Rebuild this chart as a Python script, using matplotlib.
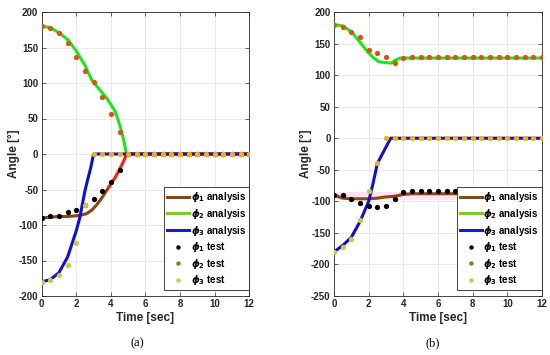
import matplotlib
matplotlib.use('Agg')
import matplotlib.pyplot as plt
from matplotlib.lines import Line2D
import numpy as np

plt.rcParams['font.family'] = ['Liberation Sans', 'DejaVu Sans']
plt.rcParams['font.weight'] = 'bold'
plt.rcParams['mathtext.fontset'] = 'dejavusans'
plt.rcParams['axes.unicode_minus'] = False

# test samples every 0.5 s
t_test = np.arange(0, 12.01, 0.5)

# ---- (a) ----
phi1_test_a = [-90, -88, -87, -82, -79, -72, -64, -52, -40, -22,
               0, 0, 0, 0, 0, 0, 0, 0, 0, 0, 0, 0, 0, 0, 0]
phi2_test_a = [180, 178, 170, 156, 136, 117, 102, 80, 57, 31,
               0, 0, 0, 0, 0, 0, 0, 0, 0, 0, 0, 0, 0, 0, 0]
phi3_test_a = [-180, -178, -170, -157, -125, -72,
               0, 0, 0, 0, 0, 0, 0, 0, 0, 0, 0, 0, 0, 0, 0, 0, 0, 0, 0]

t_phi1_a = [0, 0.5, 1, 1.5, 2, 2.3, 2.6, 2.9, 3.2, 3.5, 3.9]
phi1_a = [-90, -89, -88, -88, -87, -86, -84, -79, -71, -61, -46]
t_phi1r_a = [3.9, 4.2, 4.5, 4.7, 4.92, 12]
phi1r_a = [-46, -35, -22, -12, 0, 0]
t_phi2_a = [0, 0.5, 1.05, 1.55, 2.0, 2.5, 2.9, 3.2, 3.75, 4.25, 4.55, 4.75, 4.9, 12]
phi2_a = [180, 178, 170, 160, 145, 125, 104, 95, 79, 60, 38, 19, 0, 0]
t_phi3_a = [0, 0.5, 1, 1.5, 2, 2.2, 2.5, 2.65, 2.83, 3.0, 12]
phi3_a = [-180, -177, -167, -145, -108, -90, -52, -37, -20, 0, 0]

# ---- (b) ----
phi1_test_b = [-90, -90, -97, -102, -108, -109, -107, -96, -85,
               -83, -83, -83, -83, -83, -83, -83, -83, -83, -83, -83, -83, -83, -83, -83, -83]
phi2_test_b = [180, 176, 169, 160, 140, 135, 128, 119, 127,
               128, 128, 128, 128, 128, 128, 128, 128, 128, 128, 128, 128, 128, 128, 128, 128]
phi3_test_b = [-180, -172, -160, -130, -83, -40,
               0, 0, 0, 0, 0, 0, 0, 0, 0, 0, 0, 0, 0, 0, 0, 0, 0, 0, 0]

t_phi1_b = [0, 0.5, 1, 1.5, 2, 2.5, 3, 3.5, 4, 4.5, 12]
phi1_b = [-90, -95, -96, -96, -96, -95, -93, -92, -89, -88, -88]
t_phi2_b = [0, 0.5, 1, 1.5, 2, 2.3, 2.6, 3.3, 3.5, 3.8, 12]
phi2_b = [180, 178, 169, 152, 135, 127, 121, 119, 123, 127, 127]
t_phi3_b = [0, 0.5, 1, 1.5, 2, 2.25, 2.5, 3.27, 12]
phi3_b = [-180, -170, -157, -132, -100, -72, -40, 0, 0]

green = '#1fe31f'
blue = '#1010d0'
brown = '#8a4518'
red = '#ff1a1a'
orange_red = '#d95319'
orange = '#edb120'
ygreen = '#c4cf3c'
grid_c = '#e6e6e6'
ink = '#262626'

fig = plt.figure(figsize=(5.5, 3.55), dpi=100)
ax_a = fig.add_axes([41.7 / 550, 59 / 355, 207.5 / 550, 284 / 355])
ax_b = fig.add_axes([334 / 550, 59 / 355, 208 / 550, 284 / 355])


def style(ax, ylim, yticks):
    ax.set_xlim(0, 12)
    ax.set_ylim(*ylim)
    ax.set_xticks(range(0, 13, 2))
    ax.set_yticks(yticks)
    ax.grid(True, color=grid_c, lw=0.6)
    ax.set_axisbelow(True)
    ax.tick_params(direction='in', length=3, width=0.5, labelsize=7,
                   top=True, right=True, colors=ink, pad=2.5)
    for s in ax.spines.values():
        s.set_color(ink)
        s.set_linewidth(0.6)
    ax.set_xlabel('Time [sec]', fontsize=8.5, fontweight='bold', labelpad=2, color=ink)
    ax.set_ylabel('Angle [°]', fontsize=8.5, fontweight='bold', labelpad=-1, color=ink)


def dots(ax, p1, p2, p3):
    ms = 3.8
    ax.plot(t_test, p1, 'o', color='black', ms=ms, mec='none', zorder=4)
    ax.plot(t_test, p2, 'o', color=orange_red, ms=ms, mec='none', zorder=4)
    p3 = np.array(p3)
    low = p3 < -50
    ax.plot(t_test[low], p3[low], 'o', color=ygreen, ms=ms, mec='none', zorder=4)
    ax.plot(t_test[~low], p3[~low], 'o', color=orange, ms=ms, mec='none', zorder=5)


lw = 2.2
# (a)
style(ax_a, (-200, 200), range(-200, 201, 50))
ax_a.plot(t_phi2_a, phi2_a, color=green, lw=lw, zorder=2)
ax_a.plot(t_phi1_a, phi1_a, color=brown, lw=lw, zorder=2)
ax_a.plot(t_phi1r_a, phi1r_a, color=red, lw=lw, zorder=2)
ax_a.plot(t_phi3_a, phi3_a, color=blue, lw=lw, zorder=3)
dots(ax_a, phi1_test_a, phi2_test_a, phi3_test_a)

# (b)
style(ax_b, (-250, 200), range(-250, 201, 50))
ax_b.axhspan(-98, -86, color='#fde3f1', zorder=1, lw=0)
ax_b.plot(t_phi2_b, phi2_b, color=green, lw=lw, zorder=2)
ax_b.plot(t_phi1_b, phi1_b, color=brown, lw=lw, zorder=2)
ax_b.plot(t_phi3_b, phi3_b, color=blue, lw=lw, zorder=3)
dots(ax_b, phi1_test_b, phi2_test_b, phi3_test_b)

handles = [
    Line2D([], [], color='#7f4a1e', lw=2.2),
    Line2D([], [], color='#7dc832', lw=2.2),
    Line2D([], [], color='#1a1ad0', lw=2.2),
    Line2D([], [], color='black', marker='o', ls='none', ms=3.2, mec='none'),
    Line2D([], [], color='#80802a', marker='o', ls='none', ms=3.2, mec='none'),
    Line2D([], [], color=ygreen, marker='o', ls='none', ms=3.2, mec='none'),
]
labels = [r'$\phi_1$ analysis', r'$\phi_2$ analysis', r'$\phi_3$ analysis',
          r'$\phi_1$ test', r'$\phi_2$ test', r'$\phi_3$ test']
for ax in (ax_a, ax_b):
    leg = ax.legend(handles, labels, loc='lower right', bbox_to_anchor=(1.0, 0.02),
                    borderaxespad=0, prop={'weight': 'bold', 'size': 7},
                    handlelength=2.2, handletextpad=0.2, labelspacing=0.22,
                    borderpad=0.3, fancybox=False, framealpha=1)
    leg.get_frame().set_edgecolor(ink)
    leg.get_frame().set_linewidth(0.6)
    leg.set_zorder(10)

fig.text(137 / 550, 1 - 343 / 355, '(a)', family='Liberation Serif', fontweight='normal',
         fontsize=9, ha='center', va='center')
fig.text(433 / 550, 1 - 343 / 355, '(b)', family='Liberation Serif', fontweight='normal',
         fontsize=9, ha='center', va='center')

fig.savefig('out.png', dpi=100)
